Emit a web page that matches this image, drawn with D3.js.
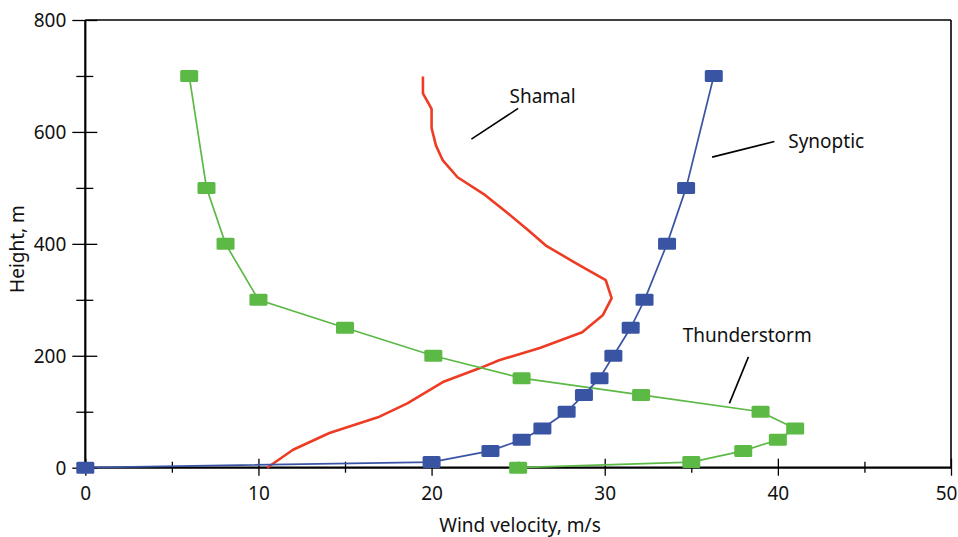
<!DOCTYPE html>
<html><head><meta charset="utf-8">
<script src="https://cdn.jsdelivr.net/npm/d3@7"></script>
<style>
body{margin:0;background:#fff;}
text{font-family:"Noto Sans",sans-serif;fill:#111;}
</style></head>
<body><svg id="c" width="958" height="537"></svg>
<script>
// Data
const synopticX = [0, 20, 23.4, 25.2, 26.4, 27.8, 28.8, 29.7, 30.5, 31.5, 32.3, 33.6, 34.7, 36.3];
const synopticY = [0, 10, 30, 50, 70, 100, 130, 160, 200, 250, 300, 400, 500, 700];
const thunderX = [6, 7, 8.1, 10, 15, 20.1, 25.2, 32.1, 39, 41, 40, 38, 35, 25];
const thunderY = [700, 500, 400, 300, 250, 200, 160, 130, 100, 70, 50, 30, 10, 0];
const shamalX = [10.5, 12.0, 14.1, 16.9, 18.6, 20.65, 22.8, 23.9, 26.25, 28.7, 29.9, 30.4, 30.06, 28.3, 26.6, 25.6, 24.35, 23.1, 21.5, 20.65, 20.25, 20.0, 20.0, 19.5, 19.5];
const shamalY = [0, 32, 62, 90, 115, 153, 178, 192, 214, 242, 273, 303, 335, 366, 397, 424, 456, 487, 519, 549, 576, 607, 641, 669, 699];
const xTicks = [0, 10, 20, 30, 40, 50];
const xMinor = [5, 15, 25, 35, 45];
const yTicks = [0, 200, 400, 600, 800];
const yMinor = [100, 300, 500, 700];
const labels = [
  {text: "Shamal", tx: 24.5, ty: 651, lx1: 22.3, ly1: 587, lx2: 25.0, ly2: 642},
  {text: "Synoptic", tx: 40.6, ty: 571, lx1: 36.2, ly1: 555, lx2: 39.8, ly2: 583},
  {text: "Thunderstorm", tx: 34.5, ty: 224, lx1: 37.2, ly1: 115, lx2: 38.3, ly2: 198}
];

const svg = d3.select("#c");
const x = d3.scaleLinear().domain([0, 50]).range([85.3, 951]);
const y = d3.scaleLinear().domain([0, 800]).range([467.7, 20]);
const FS = "19px";

// frame (top & right)
svg.append("line").attr("x1", x(0)).attr("x2", x(50)).attr("y1", y(800)).attr("y2", y(800)).attr("stroke", "#000").attr("stroke-width", 1.6);
svg.append("line").attr("x1", x(50)).attr("x2", x(50)).attr("y1", y(800)).attr("y2", y(0)).attr("stroke", "#000").attr("stroke-width", 1.6);

// Y axis
const ya = svg.append("g").attr("transform", `translate(${x(0)},0)`)
  .call(d3.axisLeft(y).tickValues(yTicks).tickSize(13).tickPadding(6).tickFormat(d3.format("d")));
ya.select(".domain").attr("stroke-width", 2.2).attr("d", `M0,${y(800)}V${y(0)}`);
ya.selectAll(".tick line").attr("x1", 12).attr("x2", -13).attr("stroke-width", 1.3);
ya.selectAll(".tick text").style("font-size", FS).attr("dy", "0.36em");
const ym = svg.append("g").attr("transform", `translate(${x(0)},0)`)
  .call(d3.axisLeft(y).tickValues(yMinor).tickSize(9).tickFormat(""));
ym.select(".domain").remove();
ym.selectAll(".tick line").attr("x1", 8).attr("x2", -9).attr("stroke-width", 1.3);

// X axis
const xa = svg.append("g").attr("transform", `translate(0,${y(0)})`)
  .call(d3.axisBottom(x).tickValues(xTicks).tickSize(8).tickPadding(11).tickFormat(d3.format("d")));
xa.select(".domain").attr("stroke-width", 2.2).attr("d", `M${x(0)},0H${x(50)}`);
xa.selectAll(".tick line").attr("y1", -9).attr("y2", 8).attr("stroke-width", 1.3);
xa.selectAll(".tick text").style("font-size", FS);
xa.selectAll(".tick text").filter(d => d === 50).attr("dx", "-5");
const xm = svg.append("g").attr("transform", `translate(0,${y(0)})`)
  .call(d3.axisBottom(x).tickValues(xMinor).tickSize(5).tickFormat(""));
xm.select(".domain").remove();
xm.selectAll(".tick line").attr("y1", -6).attr("y2", 5).attr("stroke-width", 1.3);

// Axis titles
svg.append("text").attr("x", 520).attr("y", 532).attr("text-anchor", "middle").style("font-size", FS).text("Wind velocity, m/s");
svg.append("text").attr("transform", "translate(24,249) rotate(-90)").attr("text-anchor", "middle").style("font-size", FS).text("Height, m");

// Lines
const line = d3.line().x(d => x(d[0])).y(d => y(d[1]));
const shamal = shamalX.map((v, i) => [v, shamalY[i]]);
const synoptic = synopticX.map((v, i) => [v, synopticY[i]]);
const thunder = thunderX.map((v, i) => [v, thunderY[i]]);

svg.append("path").datum(shamal).attr("d", line).attr("fill", "none").attr("stroke", "#ee3b24").attr("stroke-width", 2.6).attr("stroke-linejoin", "round");
svg.append("path").datum(thunder).attr("d", line).attr("fill", "none").attr("stroke", "#5cb946").attr("stroke-width", 1.7);
svg.append("path").datum(synoptic).attr("d", line).attr("fill", "none").attr("stroke", "#3a54a4").attr("stroke-width", 1.7);

function markers(data, color) {
  svg.append("g").selectAll("rect").data(data).join("rect")
    .attr("x", d => x(d[0]) - 9).attr("y", d => y(d[1]) - 6)
    .attr("width", 18).attr("height", 12).attr("rx", 1.5)
    .attr("fill", color);
}
markers(thunder, "#5cb946");
markers(synoptic, "#3a54a4");

// Annotations
labels.forEach(l => {
  svg.append("line").attr("x1", x(l.lx1)).attr("y1", y(l.ly1)).attr("x2", x(l.lx2)).attr("y2", y(l.ly2))
    .attr("stroke", "#000").attr("stroke-width", 1.6);
  svg.append("text").attr("x", x(l.tx)).attr("y", y(l.ty)).style("font-size", FS).text(l.text);
});
</script></body></html>
